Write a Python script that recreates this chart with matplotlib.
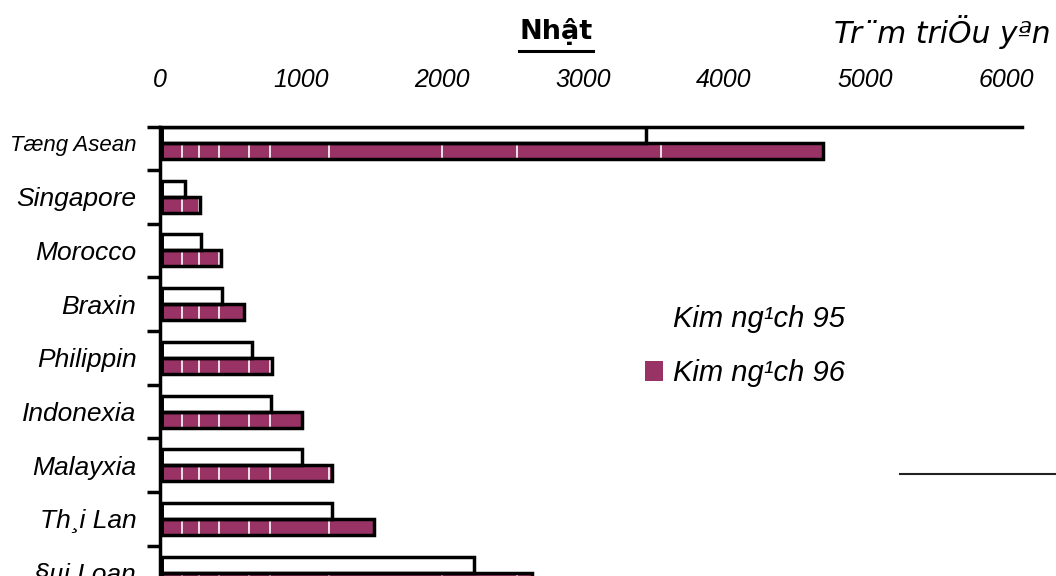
import numpy as np
import matplotlib
matplotlib.use('Agg')
import matplotlib.pyplot as plt
from matplotlib.lines import Line2D

plt.rcParams['font.family'] = ['Liberation Sans', 'DejaVu Sans']

categories = ['Tæng Asean', 'Singapore', 'Morocco', 'Braxin', 'Philippin',
              'Indonexia', 'Malayxia', 'Th¸i Lan', '§µi Loan']
kim_ngach_95 = [3450, 180, 290, 440, 650, 790, 1010, 1220, 2230]
kim_ngach_96 = [4700, 285, 430, 595, 795, 1010, 1220, 1520, 2640]
x_ticks = [0, 1000, 2000, 3000, 4000, 5000, 6000]
# white divider lines that show through the purple bars
divider_x = [155, 275, 420, 630, 780, 1200, 2000, 2530, 3550]

purple = '#993366'
W, H = 1056, 576

fig = plt.figure(figsize=(W / 100, H / 100), dpi=100)
h = 0.298
ylim = (9.0, -h)
row_px = 53.7
ax_h = (ylim[0] - ylim[1]) * row_px / H
ax_top = 1 - 127 / H
ax = fig.add_axes([160 / W, ax_top - ax_h, 862 / W, ax_h])

y = np.arange(len(categories))
y95 = y - h / 2
y96 = y + h / 2
lw = 2.5

ax.barh(y95, kim_ngach_95, height=h, color='white', linewidth=0, zorder=1,
        label='Kim ng¹ch 95')
ax.barh(y96, kim_ngach_96, height=h, color=purple, linewidth=0, zorder=1,
        label='Kim ng¹ch 96')
ax.vlines(divider_x, ylim[1], ylim[0], color='white', linewidth=1.2, zorder=2)
ax.barh(y95, kim_ngach_95, height=h, fill=False, edgecolor='black',
        linewidth=lw, joinstyle='miter', zorder=3)
ax.barh(y96, kim_ngach_96, height=h, fill=False, edgecolor='black',
        linewidth=lw, joinstyle='miter', zorder=3)
# thick black base at the start of every pair
ax.vlines(np.zeros(len(y)), y - h, y + h, color='black', linewidth=5, zorder=4)

ax.set_xlim(0, 862 / 0.141)
ax.set_ylim(*ylim)

for side in ['right', 'bottom']:
    ax.spines[side].set_visible(False)
for side in ['left', 'top']:
    ax.spines[side].set_linewidth(lw)
    ax.spines[side].set_zorder(5)

ax.xaxis.tick_top()
ax.set_xticks(x_ticks)
ax.set_xticklabels([str(v) for v in x_ticks], fontsize=18, style='italic')
ax.tick_params(axis='x', length=0, pad=25)

ax.set_yticks(y)
ax.set_yticklabels(categories, fontsize=19, style='italic')
ax.tick_params(axis='y', which='major', length=0, pad=17)
ax.set_yticks(np.r_[-h, y[:-1] + 0.5], minor=True)
ax.tick_params(axis='y', which='minor', length=9.4, width=lw, direction='out')
ax.get_yticklabels()[0].set_fontsize(16)

leg = ax.legend(loc='upper left', bbox_to_anchor=(645 / W, 1 - 305 / H),
                bbox_transform=fig.transFigure, frameon=False,
                prop={'size': 21, 'style': 'italic'}, handlelength=0.6,
                handleheight=0.7, handletextpad=0.35, labelspacing=0.9,
                borderpad=0, borderaxespad=0)

title = fig.text(556 / W, 1 - 39 / H, 'Nhật', ha='center', va='baseline',
                 fontsize=19.5, fontweight='bold', family='DejaVu Sans')
fig.text(1050 / W, 1 - 43 / H, 'Tr¨m triÖu yªn', ha='right', va='baseline',
         fontsize=21.5, style='italic', family='DejaVu Sans')

fig.canvas.draw()
bb = title.get_window_extent()
fig.add_artist(Line2D([bb.x0 / W, bb.x1 / W], [1 - 51 / H] * 2,
                      color='black', linewidth=2.2))
fig.add_artist(Line2D([900 / W, 1], [1 - 474 / H] * 2, color='#222222',
                      linewidth=1.5))

fig.savefig('out.png', dpi=100)
